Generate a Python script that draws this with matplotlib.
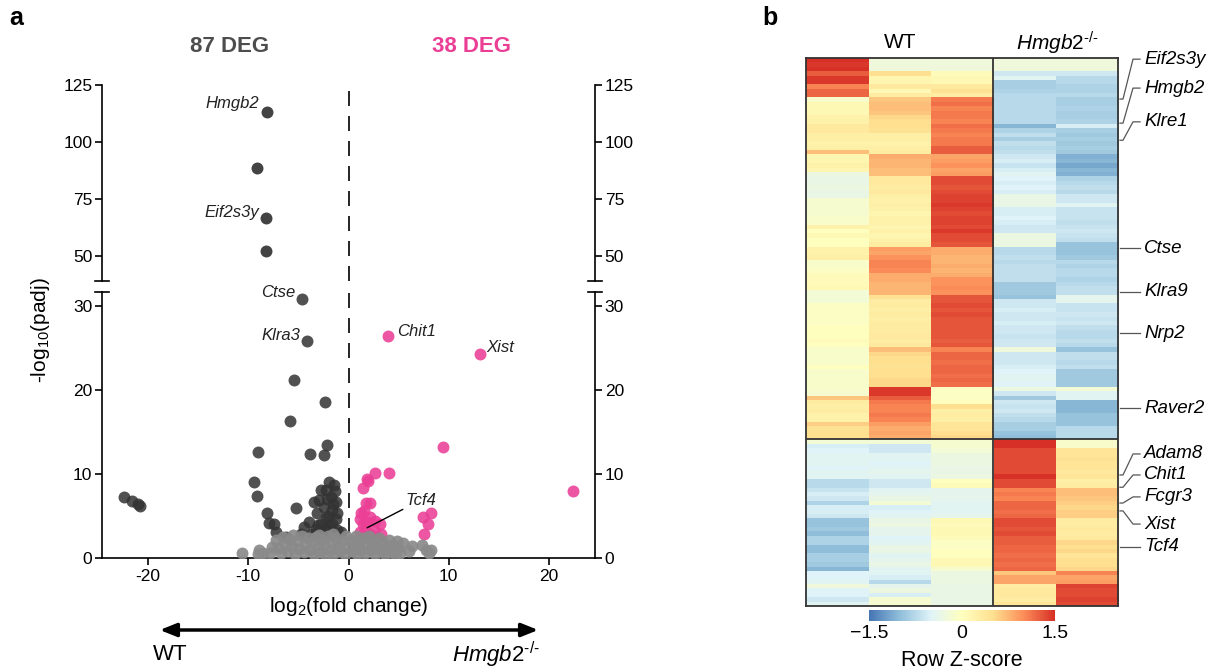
import matplotlib
matplotlib.use("Agg")
import matplotlib.pyplot as plt
import matplotlib.transforms as mtrans
import numpy as np
from matplotlib.colors import LinearSegmentedColormap
from matplotlib.patches import FancyArrowPatch

plt.rcParams['font.family'] = ['Liberation Sans', 'DejaVu Sans']
plt.rcParams['mathtext.fontset'] = 'custom'
plt.rcParams['mathtext.rm'] = 'Liberation Sans'
plt.rcParams['mathtext.it'] = 'Liberation Sans:italic'
plt.rcParams['axes.unicode_minus'] = False

# ---------------- volcano data ----------------
# points with -log10(padj) above the axis break
up_x = [-8.15, -9.15, -8.2, -8.2]
up_y = [113.0, 88.5, 66.8, 52.3]

# down-regulated (higher in WT), lower segment
dn_x = [-4.6, -4.15, -5.4, -2.3, -5.85, -9.0, -2.1, -3.8, -2.4, -9.4, -22.4, -21.6, -21.0, -20.8,
        -9.1, -8.1, -7.4, -7.9, -7.2, -5.2, -6.2, -1.9, -1.4, -2.25, -1.75, -2.9, -1.25, -2.4,
        -1.6, -3.1, -1.1, -2.25, -3.9, -1.6, -4.4, -3.25, -2.25, -1.1, -4.75, -3.6, -2.6, -1.6,
        -0.75, -3.4, -2.75, -1.3, -2.0, -1.9, -1.2, -2.7, -1.5, -2.1, -3.0]
dn_y = [30.8, 25.8, 21.2, 18.6, 16.3, 12.6, 13.4, 12.4, 12.2, 9.1, 7.3, 6.8, 6.4, 6.2,
        7.4, 5.3, 4.1, 4.2, 3.1, 5.9, 2.5, 9.1, 8.7, 8.1, 7.3, 6.9, 6.7, 6.1,
        5.7, 5.3, 5.3, 4.7, 4.3, 4.1, 3.7, 3.5, 3.5, 3.3, 2.9, 2.9, 2.9, 2.9,
        3.1, 6.7, 8.1, 8.0, 5.0, 3.8, 4.6, 4.0, 6.4, 7.0, 3.9]

# up-regulated (higher in Hmgb2-/-)
ko_x = [3.9, 13.1, 9.4, 2.6, 4.0, 1.8, 22.4, 1.4, 1.7, 2.1, 1.2, 1.5, 2.1, 1.4, 1.1, 1.8,
        3.1, 2.6, 1.1, 1.6, 2.1, 3.2, 2.5, 8.2, 7.4, 7.9, 7.5, 1.9]
ko_y = [26.4, 24.3, 13.2, 10.1, 10.1, 9.4, 8.0, 8.3, 6.5, 6.5, 5.3, 5.6, 4.9, 4.1, 4.6, 4.3,
        4.1, 4.4, 3.1, 3.4, 2.9, 2.9, 3.3, 5.3, 4.9, 4.1, 2.9, 9.2]

# not significant
ns_x = [-10.6, -9.0, -8.9, -8.5, -7.8, -7.6,
        -7.2, -7.0, -6.7, -6.5, -6.3, -6.0, -5.8, -5.6, -5.3, -5.1, -4.9, -4.6, -4.4, -4.2,
        -4.0, -3.8, -3.6, -3.4, -3.2, -3.0, -2.8, -2.6, -2.4, -2.2, -2.0, -1.8, -1.6, -1.4,
        -1.2, -1.0, -0.8, -0.6, -0.4, -0.25, -0.3, -5.5, -2.9, -1.5,
        0.25, 0.35, 0.5, 0.7, 0.8, 1.0, 1.2, 1.4, 1.6, 1.8, 2.0, 2.2, 2.4, 2.6, 2.8, 3.0,
        3.2, 3.4, 3.6, 3.8, 4.0, 4.2, 4.4, 4.6, 4.9, 5.1, 5.4, 6.0, 6.3, 7.3, 7.7, 8.0,
        8.2, 4.8, 2.3, 0.6]
ns_y = [0.6, 0.5, 1.0, 0.6, 0.6, 1.3,
        2.2, 1.2, 0.6, 2.5, 1.6, 0.8, 2.2, 1.3, 0.5, 2.0, 1.1, 2.6, 0.7, 1.7,
        2.4, 0.9, 1.9, 0.5, 2.5, 1.3, 0.7, 2.1, 1.5, 0.4, 2.6, 1.0, 1.9, 0.6,
        2.4, 1.4, 0.8, 2.0, 1.2, 2.6, 0.5, 2.7, 2.7, 2.8,
        2.2, 0.8, 1.6, 2.6, 0.5, 1.9, 1.0, 2.4, 0.6, 1.5, 2.6, 0.9, 2.0, 0.5, 1.4, 2.4,
        0.8, 1.8, 0.5, 1.2, 2.2, 0.7, 1.6, 0.5, 1.2, 0.6, 1.8, 0.8, 1.4, 1.6, 1.0, 0.6,
        0.9, 2.0, 1.6, 1.2]

# labelled genes: (name, x, y, ha, segment)
vol_labels = [("Hmgb2", -8.9, 117.0, "right", "up"),
              ("Eif2s3y", -8.9, 68.9, "right", "up"),
              ("Ctse", -5.3, 31.6, "right", "lo"),
              ("Klra3", -4.85, 26.5, "right", "lo"),
              ("Chit1", 4.85, 27.0, "left", "lo"),
              ("Xist", 13.8, 25.0, "left", "lo")]

# ---------------- heatmap data (row z-scores, WT1..3, KO1..2) ----------------
samples = ["WT", "WT", "WT", "KO", "KO"]
z_wt_high = [
    [1.5, -0.25, -0.25, -0.25, -0.25], [1.45, -0.25, -0.25, -0.25, -0.25], [1.5, -0.25, -0.25, -0.25, -0.25],
    [1.25, 0.5, 0.05, -0.6, -0.6], [1.45, 0.15, 0.1, -0.45, -0.75], [1.45, 0.15, 0.1, -0.85, -0.75],
    [1.05, 0.35, 0.35, -0.85, -0.8], [1.2, 0.1, 0.45, -0.8, -0.8], [1.2, 0.3, 0.3, -0.75, -0.75],
    [-0.1, 0.65, 1.1, -0.75, -0.85], [0.1, 0.7, 1.15, -0.75, -0.85], [0.1, 0.7, 1.05, -0.75, -0.8],
    [0.1, 0.65, 1.1, -0.75, -0.85], [0.2, 0.55, 1.1, -0.75, -0.85], [0.2, 0.5, 1.05, -0.75, -0.8],
    [0.35, 0.5, 1.15, -1.05, -0.55], [0.35, 0.45, 1.1, -0.8, -0.85], [0.25, 0.25, 1.05, -0.7, -0.9],
    [0.25, 0.25, 1.1, -0.85, -0.85], [0.2, 0.2, 1.1, -0.7, -0.9], [0.25, 0.25, 1.25, -0.75, -0.85],
    [0.7, 0.3, 1.25, -0.7, -0.9], [0.15, 0.8, 0.85, -0.6, -1.1], [0.15, 0.75, 0.9, -0.55, -1.05],
    [0.2, 0.75, 0.95, -0.65, -1.15], [0.15, 0.7, 0.85, -0.55, -1.05], [-0.3, 0.7, 0.9, -0.45, -1.1],
    [-0.35, 0.35, 1.35, -0.5, -0.8], [-0.35, 0.35, 1.35, -0.55, -0.75], [-0.3, 0.3, 1.3, -0.5, -0.7],
    [-0.35, 0.35, 1.35, -0.55, -0.75], [-0.35, 0.25, 1.4, -0.35, -0.6], [-0.15, 0.2, 1.4, -0.35, -0.6],
    [-0.15, 0.25, 1.45, -0.35, -0.45], [-0.15, 0.2, 1.4, -0.55, -0.65], [-0.15, 0.15, 1.35, -0.55, -0.65],
    [-0.1, 0.2, 1.4, -0.5, -0.65], [-0.1, 0.2, 1.4, -0.55, -0.7], [0.2, 0.15, 1.35, -0.6, -0.65],
    [0.0, 0.2, 1.45, -0.6, -0.6], [0.1, 0.15, 1.35, -0.3, -0.65], [0.0, 0.2, 1.35, -0.3, -0.7],
    [0.0, 0.3, 1.3, -0.3, -0.95], [0.2, 0.9, 0.8, -0.75, -0.95], [0.2, 0.85, 0.8, -0.75, -0.95],
    [0.25, 0.95, 0.75, -0.7, -0.9], [-0.1, 1.05, 0.75, -0.75, -0.75], [-0.1, 1.05, 0.8, -0.7, -0.8],
    [-0.05, 1.0, 0.75, -0.7, -0.75], [0.05, 0.8, 0.8, -0.7, -0.75], [0.05, 0.8, 0.95, -0.7, -0.8],
    [0.05, 0.75, 0.95, -0.9, -0.75], [0.1, 0.75, 1.0, -0.9, -0.7], [-0.2, 0.75, 0.95, -0.9, -0.7],
    [-0.2, 0.45, 1.3, -0.95, -0.4], [-0.2, 0.3, 1.3, -0.6, -0.4], [-0.05, 0.3, 1.35, -0.6, -0.65],
    [-0.05, 0.25, 1.3, -0.55, -0.65], [-0.05, 0.3, 1.35, -0.6, -0.6], [-0.05, 0.25, 1.3, -0.6, -0.65],
    [-0.05, 0.3, 1.3, -0.55, -0.6], [0.0, 0.3, 1.3, -0.6, -0.7], [0.0, 0.3, 1.3, -0.6, -0.75],
    [0.0, 0.35, 1.3, -0.65, -0.75], [0.05, 0.3, 1.25, -0.6, -0.7], [0.0, 0.35, 1.3, -0.6, -0.75],
    [-0.1, 0.7, 1.05, -0.25, -0.95], [-0.1, 0.55, 1.2, -0.6, -0.7], [-0.1, 0.5, 1.2, -0.6, -0.7],
    [-0.1, 0.5, 1.15, -0.6, -0.75], [0.0, 0.45, 1.2, -0.55, -0.7], [-0.1, 0.5, 1.2, -0.5, -0.9],
    [-0.1, 0.5, 1.15, -0.45, -0.9], [-0.1, 0.55, 1.2, -0.45, -0.9], [-0.1, 0.55, 1.15, -0.5, -0.9],
    [-0.1, 1.45, -0.05, -0.3, -0.2], [-0.15, 1.45, -0.05, -0.6, -0.45], [0.65, 1.25, -0.05, -0.9, -0.45],
    [0.3, 1.1, 0.0, -0.6, -1.05], [0.25, 1.05, 0.5, -0.65, -1.05], [0.3, 1.05, 0.25, -0.6, -1.05],
    [0.2, 1.1, 0.3, -0.7, -0.95], [0.2, 1.05, 0.25, -0.75, -0.95], [0.6, 0.9, 0.4, -0.85, -0.95],
    [0.45, 0.8, 0.4, -0.85, -0.75], [0.5, 0.85, 0.5, -0.95, -0.75], [0.5, 0.8, 0.55, -1.0, -0.75],
]
z_ko_high = [
    [-0.2, -0.2, -0.15, 1.5, -0.1], [-0.55, -0.6, -0.15, 1.5, -0.1], [-0.5, -0.6, -0.2, 1.35, 0.4],
    [-0.45, -0.45, -0.3, 1.35, 0.4], [-0.45, -0.45, -0.3, 1.35, 0.45], [-0.45, -0.5, -0.3, 1.35, 0.4],
    [-0.5, -0.45, -0.35, 1.35, 0.4], [-0.45, -0.4, -0.35, 1.35, 0.35], [-0.45, -0.45, -0.3, 1.5, 0.4],
    [-0.75, -0.6, 0.0, 1.35, 0.25], [-0.75, -0.6, 0.05, 1.35, 0.3], [-0.65, -0.45, -0.4, 1.05, 0.7],
    [-0.55, -0.4, -0.4, 1.1, 0.7], [-0.6, -0.35, -0.4, 1.05, 0.65], [-0.8, -0.2, -0.45, 1.2, 0.6],
    [-0.55, -0.55, -0.45, 1.2, 0.55], [-0.55, -0.5, -0.45, 1.15, 0.6], [-0.6, -0.45, -0.4, 1.2, 0.6],
    [-0.95, -0.35, 0.1, 1.35, 0.3], [-0.95, -0.3, 0.05, 1.35, 0.3], [-0.9, -0.4, 0.1, 1.3, 0.35],
    [-1.0, -0.4, 0.1, 1.35, 0.3], [-0.8, -0.5, 0.05, 1.25, 0.35], [-0.8, -0.45, -0.05, 1.25, 0.55],
    [-1.0, -0.35, -0.05, 1.2, 0.5], [-1.0, -0.35, 0.0, 1.2, 0.55], [-0.85, -0.45, 0.0, 1.15, 0.4],
    [-0.85, -0.4, 0.1, 1.2, 0.5], [-0.9, -0.35, 0.1, 1.15, 0.5], [-1.05, -0.45, -0.15, 1.2, 0.55],
    [-0.5, -0.45, -0.3, 0.65, 1.05], [-0.5, -0.55, -0.3, 0.85, 0.85], [-0.45, -0.75, -0.3, 0.85, 0.9],
    [-0.25, -0.4, -0.35, 0.3, 1.4], [-0.5, -0.3, -0.35, 0.35, 1.35], [-0.5, -0.55, -0.35, 0.35, 1.35],
    [-0.6, -0.15, -0.35, 0.3, 1.4], [-0.45, -0.15, -0.35, 0.4, 1.35],
]
# heatmap gene labels: (name, row at heatmap edge, row of label)
hm_labels = [("Eif2s3y", 9.3, 0.2), ("Hmgb2", 14.8, 6.8), ("Klre1", 18.7, 14.5),
             ("Ctse", 43.4, 43.4), ("Klra9", 53.3, 53.3), ("Nrp2", 62.8, 62.8),
             ("Raver2", 79.9, 79.9), ("Adam8", 95.1, 90.3), ("Chit1", 97.9, 95.1),
             ("Fcgr3", 101.5, 100.1), ("Xist", 103.3, 106.3), ("Tcf4", 111.5, 111.5)]

W, H = 1222, 672
fig = plt.figure(figsize=(12.22, 6.72), dpi=100)


def fx(px):
    return px / W


def fy(py):
    return 1 - py / H


DARK = "#333333"
GREY = "#8a8a8a"
PINK = "#ea3f95"
TICK = 12.5
KO_LABEL = r"$\mathit{Hmgb2}^{\text{-/-}}$"
PT = 74

ax_up = fig.add_axes([fx(102), fy(281), fx(595) - fx(102), fy(85) - fy(281)])
ax_lo = fig.add_axes([fx(102), fy(558), fx(595) - fx(102), fy(292) - fy(558)])

for ax in (ax_up, ax_lo):
    ax.set_xlim(-24.6, 24.6)
    ax.axvline(0, color="k", lw=1.2, dashes=(9, 6), zorder=1)
    ax.spines["top"].set_visible(False)
    for s in ("left", "right", "bottom"):
        ax.spines[s].set_linewidth(1.2)
    ax.tick_params(axis="y", direction="out", length=5, width=1.2, labelsize=TICK,
                   left=True, right=True, labelleft=True, labelright=True, pad=2)
    ax.tick_params(axis="x", direction="out", length=5, width=1.2, labelsize=TICK, pad=3)

ax_up.scatter(up_x, up_y, s=PT, color=DARK, alpha=0.92, lw=0, zorder=3)
ax_up.set_ylim(39, 125)
ax_up.set_yticks([50, 75, 100, 125])
ax_up.spines["bottom"].set_visible(False)
ax_up.tick_params(axis="x", bottom=False, labelbottom=False)

ax_lo.scatter(dn_x, dn_y, s=PT, color=DARK, alpha=0.85, lw=0, zorder=3, clip_on=False)
ax_lo.scatter(ko_x, ko_y, s=PT, color=PINK, alpha=0.88, lw=0, zorder=3)
ax_lo.scatter(ns_x, ns_y, s=PT, color=GREY, alpha=0.92, lw=0, zorder=4)
ax_lo.set_ylim(0, 31.65)
ax_lo.set_yticks([0, 10, 20, 30])
ax_lo.set_xticks([-20, -10, 0, 10, 20])

# axis break marks
for ax, yv in ((ax_up, 0), (ax_lo, 1)):
    for xc in (0, 1):
        ax.plot([xc - 0.015, xc + 0.015], [yv, yv], transform=ax.transAxes,
                color="k", lw=1.2, clip_on=False)

for name, x, y, ha, seg in vol_labels:
    ax = ax_up if seg == "up" else ax_lo
    ax.text(x, y, name, style="italic", fontsize=12, ha=ha, va="center",
            color="#222222", clip_on=False)
ax_lo.annotate("Tcf4", xy=(1.86, 3.6), xytext=(5.7, 6.9), fontsize=12, style="italic",
               va="center", ha="left", color="#222222",
               arrowprops=dict(arrowstyle="-", color="k", lw=1.0, shrinkA=0, shrinkB=0), zorder=6)

fig.text(fx(230), fy(47), "87 DEG", fontsize=16, weight="bold", color="#4d4d4d", ha="center", va="center")
fig.text(fx(472), fy(47), "38 DEG", fontsize=16, weight="bold", color=PINK, ha="center", va="center")
fig.text(fx(40), fy(330), r"-log$_{10}$(padj)", rotation=90, fontsize=15, ha="center", va="center")
fig.text(fx(349), fy(606), r"log$_2$(fold change)", fontsize=15, ha="center", va="center")
fig.add_artist(FancyArrowPatch((fx(157), fy(630)), (fx(541), fy(630)), transform=fig.transFigure,
                               arrowstyle="<|-|>,head_length=0.5,head_width=0.2",
                               mutation_scale=20, lw=2.5, color="k"))
fig.text(fx(170), fy(655), "WT", fontsize=16, ha="center", va="center")
fig.text(fx(540), fy(655), KO_LABEL, fontsize=16, ha="right", va="center")

fig.text(fx(16), fy(18), "a", fontsize=18, weight="bold", ha="center", va="center")
fig.text(fx(770), fy(18), "b", fontsize=18, weight="bold", ha="center", va="center")

# ---------------- heatmap ----------------
cmap = LinearSegmentedColormap.from_list(
    "rdylbu_r", ["#4575B4", "#91BFDB", "#E0F3F8", "#FFFFBF", "#FEE090", "#FC8D59", "#D73027"])
z = np.array(z_wt_high + z_ko_high)
n_rows = z.shape[0]
n_top = len(z_wt_high)

ax_hm = fig.add_axes([fx(806), fy(606), fx(1118) - fx(806), fy(58.3) - fy(606)])
im = ax_hm.imshow(z, cmap=cmap, vmin=-1.5, vmax=1.5, aspect="auto",
                  interpolation="nearest", extent=(0, len(samples), n_rows, 0))
ax_hm.axvline(samples.count("WT"), color="#333333", lw=1.3)
ax_hm.axhline(n_top, color="#333333", lw=1.3)
ax_hm.set_xticks([])
ax_hm.set_yticks([])
for s in ax_hm.spines.values():
    s.set_color("#333333")
    s.set_linewidth(1.3)

tr = mtrans.blended_transform_factory(ax_hm.transAxes, ax_hm.transData)
aw = 312.0
for name, r0, r1 in hm_labels:
    xs = [1 + 2 / aw, 1 + 5 / aw, 1 + 15 / aw, 1 + 22 / aw]
    ys = [r0, r0, r1, r1]
    ax_hm.plot(xs, ys, transform=tr, color="#555555", lw=0.9, clip_on=False)
    ax_hm.text(1 + 26 / aw, r1, name, transform=tr, fontsize=13.5, style="italic",
               ha="left", va="center")

fig.text(fx(900), fy(43), "WT", fontsize=15, ha="center", va="center")
fig.text(fx(1057), fy(43), KO_LABEL, fontsize=15, ha="center", va="center")

ax_cb = fig.add_axes([fx(869), fy(621), fx(1055) - fx(869), 11 / H])
cb = fig.colorbar(im, cax=ax_cb, orientation="horizontal", ticks=[-1.5, 0, 1.5])
cb.outline.set_visible(False)
cb.ax.set_xticklabels(["\u22121.5", "0", "1.5"])
cb.ax.tick_params(length=0, labelsize=14, pad=3)
fig.text(fx(962), fy(660), "Row Z-score", fontsize=15.5, ha="center", va="center")

fig.savefig("out.png", dpi=100)
